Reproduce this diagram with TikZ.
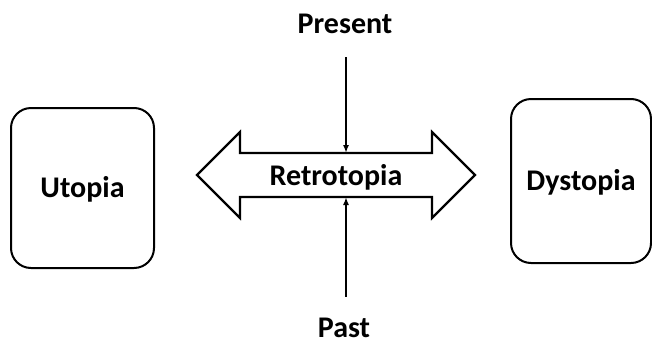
\documentclass[tikz,border=0pt]{standalone}
\usepackage{fontspec}
\setmainfont{Carlito}
\usetikzlibrary{arrows.meta}
\tikzset{
  lbl/.style={font=\fontsize{30}{35}\selectfont\bfseries, inner sep=0pt, text height=19pt, text depth=0pt},
  box/.style={lbl, draw, line width=2pt, rounded corners=20pt, anchor=north west},
  conn/.style={line width=2pt, -{Latex[length=8pt,width=6pt]}},
  dbl/.style={line width=2.2pt, line join=miter}
}
\begin{document}
\begin{tikzpicture}[x=1pt,y=-1pt]
\useasboundingbox (0,0) rectangle (652,343);
% side boxes
\node[box, minimum width=143pt, minimum height=160pt] (utopia) at (10,107) {Utopia};
\node[box, minimum width=140pt, minimum height=164pt] (dystopia) at (510,98) {Dystopia};
% double arrow
\draw[dbl] (197,175) -- (240,132) -- (240,153) -- (432,153) -- (432,132) -- (475,175)
  -- (432,218) -- (432,197) -- (240,197) -- (240,218) -- cycle;
\node[lbl] (retro) at (336,175.5) {Retrotopia};
\coordinate (shaftTop) at (346,153);
\coordinate (shaftBot) at (346,197);
% time labels
\node[lbl] (present) at (345,23.5) {Present};
\node[lbl] (past) at (344,327.5) {Past};
\draw[conn, shorten <=24pt] (present.south -| shaftTop) -- (shaftTop);
\draw[conn, shorten <=21pt] (past.north -| shaftBot) -- (shaftBot);
\end{tikzpicture}
\end{document}
